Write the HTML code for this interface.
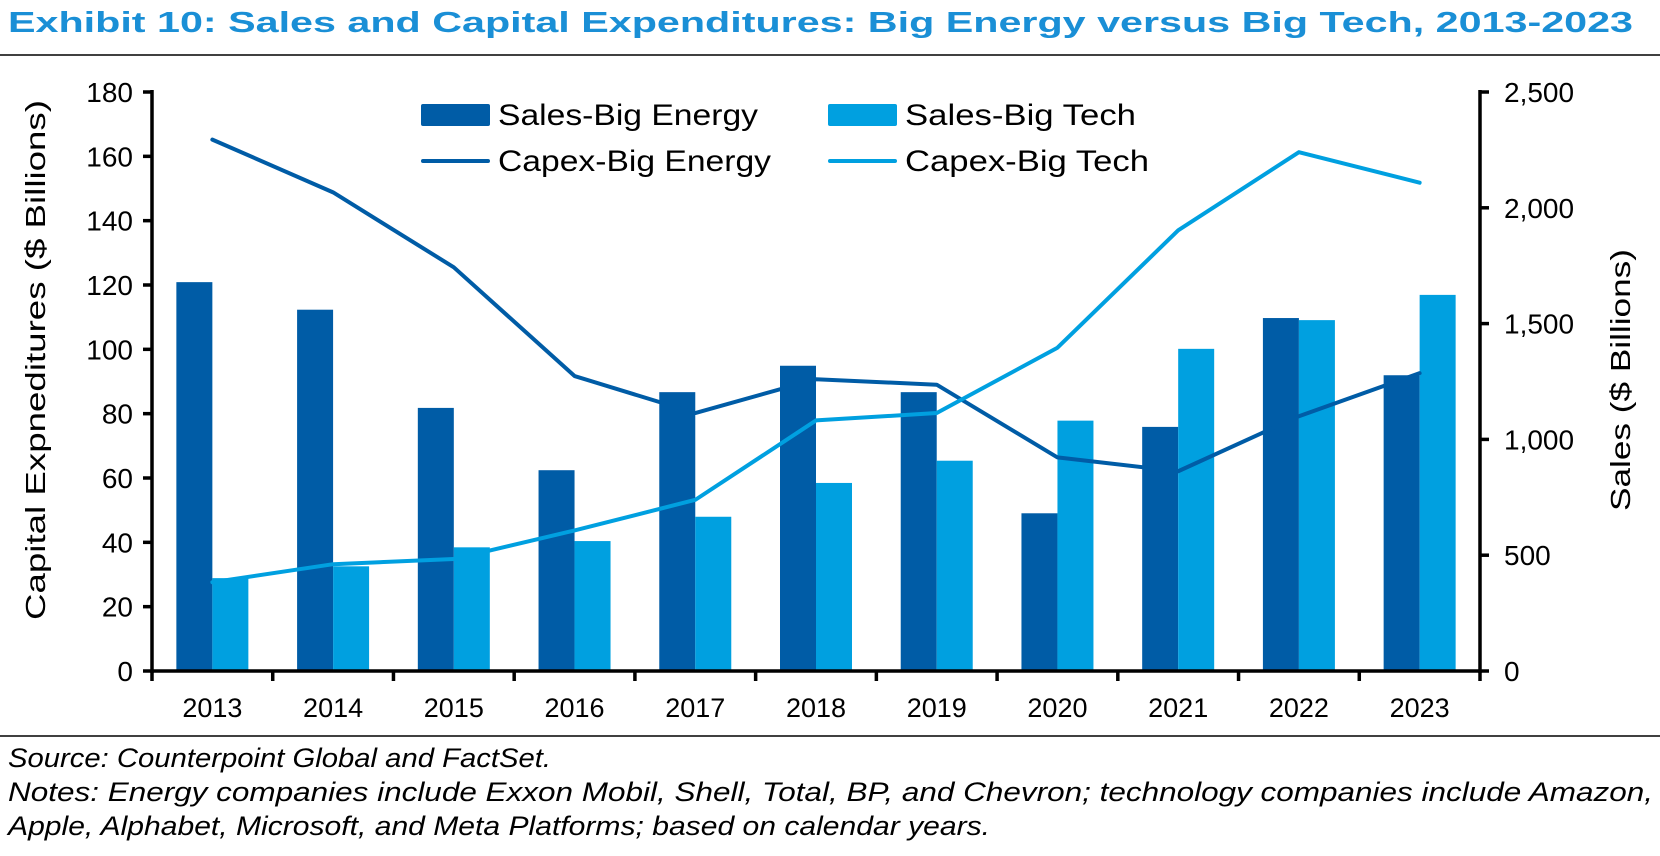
<!DOCTYPE html>
<html><head><meta charset="utf-8"><style>
html,body{margin:0;padding:0;background:#fff;}
svg{display:block;font-family:"Liberation Sans",Arial,sans-serif;}
</style></head><body>
<svg id="chart" width="1660" height="856" viewBox="0 0 1660 856">
<text x="8" y="32" font-size="29" font-weight="bold" fill="#1a8fd6" textLength="1625" lengthAdjust="spacingAndGlyphs">Exhibit 10: Sales and Capital Expenditures: Big Energy versus Big Tech, 2013-2023</text>
<line x1="0" y1="55" x2="1660" y2="55" stroke="#000" stroke-width="1.5"/>
<g id="plot"></g>
<g>
<rect x="421" y="104" width="69" height="22" rx="2" fill="#005ca6"/>
<text x="498" y="125" font-size="30" textLength="260" lengthAdjust="spacingAndGlyphs">Sales-Big Energy</text>
<rect x="828" y="104" width="69" height="22" rx="2" fill="#00a0e0"/>
<text x="905" y="125" font-size="30" textLength="231" lengthAdjust="spacingAndGlyphs">Sales-Big Tech</text>
<line x1="423" y1="161" x2="488" y2="161" stroke="#005ca6" stroke-width="4" stroke-linecap="round"/>
<text x="498" y="171" font-size="30" textLength="273" lengthAdjust="spacingAndGlyphs">Capex-Big Energy</text>
<line x1="830" y1="161" x2="895" y2="161" stroke="#00a0e0" stroke-width="4" stroke-linecap="round"/>
<text x="905" y="171" font-size="30" textLength="244" lengthAdjust="spacingAndGlyphs">Capex-Big Tech</text>
</g>
<text transform="translate(45,360) rotate(-90)" text-anchor="middle" font-size="28" textLength="520" lengthAdjust="spacingAndGlyphs">Capital Expneditures ($ Billions)</text>
<text transform="translate(1630,380) rotate(-90)" text-anchor="middle" font-size="28" textLength="262" lengthAdjust="spacingAndGlyphs">Sales ($ Billions)</text>
<line x1="0" y1="736" x2="1660" y2="736" stroke="#000" stroke-width="1.5"/>
<text x="8" y="767" font-size="27" font-style="italic" textLength="543" lengthAdjust="spacingAndGlyphs">Source: Counterpoint Global and FactSet.</text>
<text x="8" y="801" font-size="27" font-style="italic" textLength="1645" lengthAdjust="spacingAndGlyphs">Notes: Energy companies include Exxon Mobil, Shell, Total, BP, and Chevron; technology companies include Amazon,</text>
<text x="8" y="835" font-size="27" font-style="italic" textLength="982" lengthAdjust="spacingAndGlyphs">Apple, Alphabet, Microsoft, and Meta Platforms; based on calendar years.</text>
</svg>
<script>
const years = ["2013","2014","2015","2016","2017","2018","2019","2020","2021","2022","2023"];
const salesEnergy = [1679,1560,1136,867,1204,1318,1204,681,1054,1524,1277];
const salesTech = [401,452,534,561,666,812,908,1081,1391,1515,1624];
const capexEnergy = [165.2,148.8,125.5,91.7,80.2,90.7,89.0,66.4,62.1,79.2,92.6];
const capexTech = [27.6,33.2,34.8,43.7,53.2,77.9,80.2,100.5,137.0,161.3,151.8];
const leftTicks = [0,20,40,60,80,100,120,140,160,180];
const rightTicks = [0,500,1000,1500,2000,2500];
const rightTickLabels = ["0","500","1,000","1,500","2,000","2,500"];

const NS="http://www.w3.org/2000/svg";
const X0=152,X1=1480,Y0=671,Y1=92;
const cw=(X1-X0)/years.length;
const yL=v=>Y0-(v/180)*(Y0-Y1);
const yR=v=>Y0-(v/2500)*(Y0-Y1);
const xC=i=>X0+cw*(i+0.5);
const g=document.getElementById('plot');
function mk(t,a){const e=document.createElementNS(NS,t);for(const k in a)e.setAttribute(k,a[k]);g.appendChild(e);return e;}
const bw=36;
years.forEach((y,i)=>{
  let r=mk('rect',{x:xC(i)-bw,y:yR(salesEnergy[i]),width:bw,height:Y0-yR(salesEnergy[i]),fill:'#005ca6'});
  
  
  r=mk('rect',{x:xC(i),y:yR(salesTech[i]),width:bw,height:Y0-yR(salesTech[i]),fill:'#00a0e0'});
  
  
});
let l=mk('polyline',{points:capexEnergy.map((v,i)=>xC(i)+','+yL(v)).join(' '),fill:'none',stroke:'#005ca6','stroke-width':4,'stroke-linejoin':'round','stroke-linecap':'round'});


l=mk('polyline',{points:capexTech.map((v,i)=>xC(i)+','+yL(v)).join(' '),fill:'none',stroke:'#00a0e0','stroke-width':4,'stroke-linejoin':'round','stroke-linecap':'round'});


let a=mk('line',{x1:X0,y1:Y1-2,x2:X0,y2:Y0+2,stroke:'#000','stroke-width':3.5});


a=mk('line',{x1:X1,y1:Y1-2,x2:X1,y2:Y0+2,stroke:'#000','stroke-width':3.5});


a=mk('line',{x1:X0,y1:Y0,x2:X1,y2:Y0,stroke:'#000','stroke-width':3.5});


leftTicks.forEach(v=>{
  mk('line',{x1:X0-9,y1:yL(v),x2:X0,y2:yL(v),stroke:'#000','stroke-width':3.5});
  const t=mk('text',{x:X0-19,y:yL(v)+10,'text-anchor':'end','font-size':28});
  t.textContent=v;
  
  
});
rightTicks.forEach((v,i)=>{
  mk('line',{x1:X1,y1:yR(v),x2:X1+9,y2:yR(v),stroke:'#000','stroke-width':3.5});
  const t=mk('text',{x:X1+24,y:yR(v)+10,'font-size':28});
  t.textContent=rightTickLabels[i];
  
  
});
for(let i=0;i<=years.length;i++){mk('line',{x1:X0+cw*i,y1:Y0,x2:X0+cw*i,y2:Y0+10,stroke:'#000','stroke-width':3.5});}
years.forEach((y,i)=>{
  const t=mk('text',{x:xC(i),y:Y0+46,'text-anchor':'middle','font-size':27});
  t.textContent=y;
  
  
});
</script>
</body></html>
